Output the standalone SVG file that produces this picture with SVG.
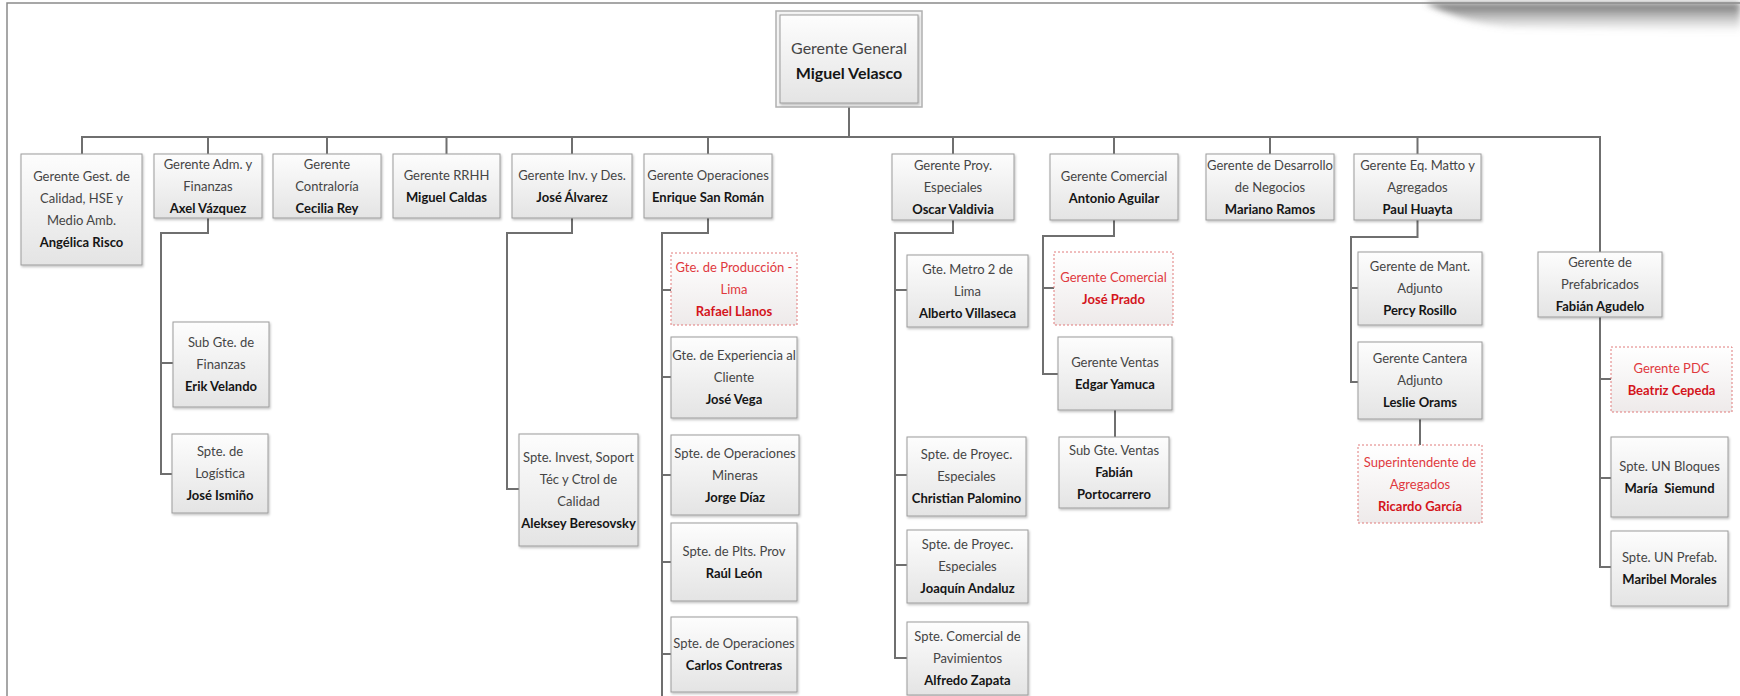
<svg xmlns="http://www.w3.org/2000/svg" width="1740" height="696" viewBox="0 0 1740 696">
  <defs>
    <linearGradient id="boxFill" x1="0" y1="0" x2="0" y2="1">
      <stop offset="0" stop-color="#fdfdfd"/>
      <stop offset="1" stop-color="#e4e4e4"/>
    </linearGradient>
    <linearGradient id="redFill" x1="0" y1="0" x2="0" y2="1">
      <stop offset="0" stop-color="#ffffff"/>
      <stop offset="1" stop-color="#eeeaea"/>
    </linearGradient>
    <linearGradient id="topShade" x1="0" y1="0" x2="0" y2="1">
      <stop offset="0" stop-color="#5a5a5a" stop-opacity="0.9"/>
      <stop offset="1" stop-color="#9a9a9a" stop-opacity="0"/>
    </linearGradient>
    <filter id="shadow" x="-5%" y="-5%" width="115%" height="120%">
      <feDropShadow dx="1" dy="1.5" stdDeviation="1" flood-color="#000" flood-opacity="0.25"/>
    </filter>
    <filter id="soft" x="-10%" y="-50%" width="120%" height="200%">
      <feGaussianBlur stdDeviation="3"/>
    </filter>
  </defs>
  <style>
    .box { fill: url(#boxFill); stroke: #9c9c9c; stroke-width: 1; filter: url(#shadow); }
    .red { fill: url(#redFill); stroke: #e07b7b; stroke-width: 1; stroke-dasharray: 2 2; }
    .t { font-family: Lato, "Open Sans", sans-serif; font-size: 13px; fill: #454545; text-anchor: middle; }
    .n { font-family: Lato, "Open Sans", sans-serif; font-size: 13px; font-weight: bold; fill: #151515; text-anchor: middle; }
    .tr { font-family: Lato, "Open Sans", sans-serif; font-size: 13px; fill: #e0393e; text-anchor: middle; }
    .nr { font-family: Lato, "Open Sans", sans-serif; font-size: 13px; font-weight: bold; fill: #d4151c; text-anchor: middle; }
    .link { fill: none; stroke: #6f6f6f; stroke-width: 2; }
  </style>

  <rect width="1740" height="696" fill="#ffffff"/>
  <!-- page frame and top-right shade -->
  <path d="M1425 3 C1445 12 1470 24 1515 28 L1740 32 L1740 3 Z" fill="url(#topShade)" filter="url(#soft)"/>
  <path d="M7 696 V3 H1740" fill="none" stroke="#8a8a8a" stroke-width="1.5"/>

  <g id="connectors" class="link">
    <path d="M849 107 V137"/>
    <path d="M82 154 V137 H1600 V252"/>
    <path d="M208 137 V154 M327 137 V154 M446.5 137 V154 M572 137 V154 M708 137 V154 M953 137 V154 M1114 137 V154 M1270 137 V154 M1417.5 137 V154"/>
    <path d="M208 218 V233 H161 V474 H172 M161 363 H173"/>
    <path d="M572 218 V233 H507 V489 H519"/>
    <path d="M708 218 V233 H662 V696 M662 290 H671 M662 377 H671 M662 475 H671 M662 562 H671 M662 654 H671"/>
    <path d="M953 220 V233 H895 V658 H907 M895 290 H907 M895 475 H907 M895 565 H907"/>
    <path d="M1114 220 V236 H1043 V374 H1058 M1043 288 H1054 M1115 410 V437"/>
    <path d="M1417.5 220 V237 H1351 V382 H1358 M1351 288 H1358 M1420 419 V445"/>
    <path d="M1600 317 V567 H1611 M1600 379 H1611 M1600 478 H1611"/>
  </g>

  <g id="gerente-general">
    <rect x="776" y="11" width="146" height="96" fill="#f4f4f4" stroke="#b0b0b0" stroke-width="1.5"/>
    <rect x="780" y="15" width="138" height="88" class="box"/>
    <text x="849" y="54" class="t" style="font-size:16px">Gerente General</text>
    <text x="849" y="79" class="n" style="font-size:16px">Miguel Velasco</text>
  </g>

  <g id="calidad">
    <rect x="21" y="154" width="121" height="111" class="box"/>
    <text x="81.5" y="181" class="t">Gerente Gest. de<tspan x="81.5" dy="22">Calidad, HSE y</tspan><tspan x="81.5" dy="22">Medio Amb.</tspan></text>
    <text x="81.5" y="247" class="n">Angélica Risco</text>
  </g>
  <g id="adm-finanzas">
    <rect x="154" y="154" width="108" height="64" class="box"/>
    <text x="208" y="168.5" class="t">Gerente Adm. y<tspan x="208" dy="22">Finanzas</tspan></text>
    <text x="208" y="212.5" class="n">Axel Vázquez</text>
  </g>
  <g id="contraloria">
    <rect x="273" y="154" width="108" height="64" class="box"/>
    <text x="327" y="168.5" class="t">Gerente<tspan x="327" dy="22">Contraloría</tspan></text>
    <text x="327" y="212.5" class="n">Cecilia Rey</text>
  </g>
  <g id="rrhh">
    <rect x="393" y="154" width="107" height="64" class="box"/>
    <text x="446.5" y="179.5" class="t">Gerente RRHH</text>
    <text x="446.5" y="201.5" class="n">Miguel Caldas</text>
  </g>
  <g id="inv-des">
    <rect x="512" y="154" width="120" height="64" class="box"/>
    <text x="572" y="179.5" class="t">Gerente Inv. y Des.</text>
    <text x="572" y="201.5" class="n">José Álvarez</text>
  </g>
  <g id="operaciones">
    <rect x="644" y="154" width="128" height="64" class="box"/>
    <text x="708" y="179.5" class="t">Gerente Operaciones</text>
    <text x="708" y="201.5" class="n">Enrique San Román</text>
  </g>
  <g id="proy-especiales">
    <rect x="892" y="154" width="122" height="66" class="box"/>
    <text x="953" y="169.5" class="t">Gerente Proy.<tspan x="953" dy="22">Especiales</tspan></text>
    <text x="953" y="213.5" class="n">Oscar Valdivia</text>
  </g>
  <g id="comercial">
    <rect x="1050" y="154" width="128" height="66" class="box"/>
    <text x="1114" y="180.5" class="t">Gerente Comercial</text>
    <text x="1114" y="202.5" class="n">Antonio Aguilar</text>
  </g>
  <g id="desarrollo">
    <rect x="1206" y="154" width="128" height="66" class="box"/>
    <text x="1270" y="169.5" class="t">Gerente de Desarrollo<tspan x="1270" dy="22">de Negocios</tspan></text>
    <text x="1270" y="213.5" class="n">Mariano Ramos</text>
  </g>
  <g id="eq-matto">
    <rect x="1354" y="154" width="127" height="66" class="box"/>
    <text x="1417.5" y="169.5" class="t">Gerente Eq. Matto y<tspan x="1417.5" dy="22">Agregados</tspan></text>
    <text x="1417.5" y="213.5" class="n">Paul Huayta</text>
  </g>
  <g id="prefabricados">
    <rect x="1538" y="252" width="124" height="65" class="box"/>
    <text x="1600" y="267" class="t">Gerente de<tspan x="1600" dy="22">Prefabricados</tspan></text>
    <text x="1600" y="311" class="n">Fabián Agudelo</text>
  </g>

  <g id="sub-finanzas">
    <rect x="173" y="322" width="96" height="85" class="box"/>
    <text x="221" y="347" class="t">Sub Gte. de<tspan x="221" dy="22">Finanzas</tspan></text>
    <text x="221" y="391" class="n">Erik Velando</text>
  </g>
  <g id="logistica">
    <rect x="172" y="434" width="96" height="79" class="box"/>
    <text x="220" y="456" class="t">Spte. de<tspan x="220" dy="22">Logística</tspan></text>
    <text x="220" y="500" class="n">José Ismiño</text>
  </g>
  <g id="invest-soporte">
    <rect x="519" y="434" width="119" height="112" class="box"/>
    <text x="578.5" y="461.5" class="t">Spte. Invest, Soport<tspan x="578.5" dy="22">Téc y Ctrol de</tspan><tspan x="578.5" dy="22">Calidad</tspan></text>
    <text x="578.5" y="527.5" class="n">Aleksey Beresovsky</text>
  </g>

  <g id="produccion-lima">
    <rect x="671" y="253" width="126" height="72" class="red"/>
    <text x="734" y="271.5" class="tr">Gte. de Producción -<tspan x="734" dy="22">Lima</tspan></text>
    <text x="734" y="315.5" class="nr">Rafael Llanos</text>
  </g>
  <g id="experiencia-cliente">
    <rect x="671" y="337" width="126" height="81" class="box"/>
    <text x="734" y="360" class="t">Gte. de Experiencia al<tspan x="734" dy="22">Cliente</tspan></text>
    <text x="734" y="404" class="n">José Vega</text>
  </g>
  <g id="operaciones-mineras">
    <rect x="671" y="435" width="128" height="80" class="box"/>
    <text x="735" y="457.5" class="t">Spte. de Operaciones<tspan x="735" dy="22">Mineras</tspan></text>
    <text x="735" y="501.5" class="n">Jorge Díaz</text>
  </g>
  <g id="plantas-prov">
    <rect x="671" y="523" width="126" height="78" class="box"/>
    <text x="734" y="555.5" class="t">Spte. de Plts. Prov</text>
    <text x="734" y="577.5" class="n">Raúl León</text>
  </g>
  <g id="operaciones-spte">
    <rect x="671" y="617" width="126" height="75" class="box"/>
    <text x="734" y="648" class="t">Spte. de Operaciones</text>
    <text x="734" y="670" class="n">Carlos Contreras</text>
  </g>

  <g id="metro-lima">
    <rect x="907" y="255" width="121" height="72" class="box"/>
    <text x="967.5" y="273.5" class="t">Gte. Metro 2 de<tspan x="967.5" dy="22">Lima</tspan></text>
    <text x="967.5" y="317.5" class="n">Alberto Villaseca</text>
  </g>
  <g id="proyec-palomino">
    <rect x="907" y="437" width="119" height="79" class="box"/>
    <text x="966.5" y="459" class="t">Spte. de Proyec.<tspan x="966.5" dy="22">Especiales</tspan></text>
    <text x="966.5" y="503" class="n">Christian Palomino</text>
  </g>
  <g id="proyec-andaluz">
    <rect x="907" y="530" width="121" height="73" class="box"/>
    <text x="967.5" y="549" class="t">Spte. de Proyec.<tspan x="967.5" dy="22">Especiales</tspan></text>
    <text x="967.5" y="593" class="n">Joaquín Andaluz</text>
  </g>
  <g id="pavimientos">
    <rect x="907" y="622" width="121" height="73" class="box"/>
    <text x="967.5" y="641" class="t">Spte. Comercial de<tspan x="967.5" dy="22">Pavimientos</tspan></text>
    <text x="967.5" y="685" class="n">Alfredo Zapata</text>
  </g>

  <g id="comercial-prado">
    <rect x="1054" y="252" width="119" height="73" class="red"/>
    <text x="1113.5" y="282" class="tr">Gerente Comercial</text>
    <text x="1113.5" y="304" class="nr">José Prado</text>
  </g>
  <g id="ventas">
    <rect x="1058" y="337" width="114" height="73" class="box"/>
    <text x="1115" y="367" class="t">Gerente Ventas</text>
    <text x="1115" y="389" class="n">Edgar Yamuca</text>
  </g>
  <g id="sub-ventas">
    <rect x="1059" y="437" width="110" height="71" class="box"/>
    <text x="1114" y="455" class="t">Sub Gte. Ventas</text>
    <text x="1114" y="477" class="n">Fabián<tspan x="1114" dy="22">Portocarrero</tspan></text>
  </g>

  <g id="mantenimiento">
    <rect x="1358" y="252" width="124" height="73" class="box"/>
    <text x="1420" y="271" class="t">Gerente de Mant.<tspan x="1420" dy="22">Adjunto</tspan></text>
    <text x="1420" y="315" class="n">Percy Rosillo</text>
  </g>
  <g id="cantera">
    <rect x="1358" y="342" width="124" height="77" class="box"/>
    <text x="1420" y="363" class="t">Gerente Cantera<tspan x="1420" dy="22">Adjunto</tspan></text>
    <text x="1420" y="407" class="n">Leslie Orams</text>
  </g>
  <g id="agregados">
    <rect x="1358" y="445" width="124" height="78" class="red"/>
    <text x="1420" y="466.5" class="tr">Superintendente de<tspan x="1420" dy="22">Agregados</tspan></text>
    <text x="1420" y="510.5" class="nr">Ricardo García</text>
  </g>

  <g id="pdc">
    <rect x="1611" y="347" width="121" height="65" class="red"/>
    <text x="1671.5" y="373" class="tr">Gerente PDC</text>
    <text x="1671.5" y="395" class="nr">Beatriz Cepeda</text>
  </g>
  <g id="un-bloques">
    <rect x="1611" y="437" width="117" height="80" class="box"/>
    <text x="1669.5" y="470.5" class="t">Spte. UN Bloques</text>
    <text x="1669.5" y="492.5" class="n" style="white-space:pre">María  Siemund</text>
  </g>
  <g id="un-prefab">
    <rect x="1611" y="531" width="117" height="75" class="box"/>
    <text x="1669.5" y="562" class="t">Spte. UN Prefab.</text>
    <text x="1669.5" y="584" class="n">Maribel Morales</text>
  </g>
</svg>
